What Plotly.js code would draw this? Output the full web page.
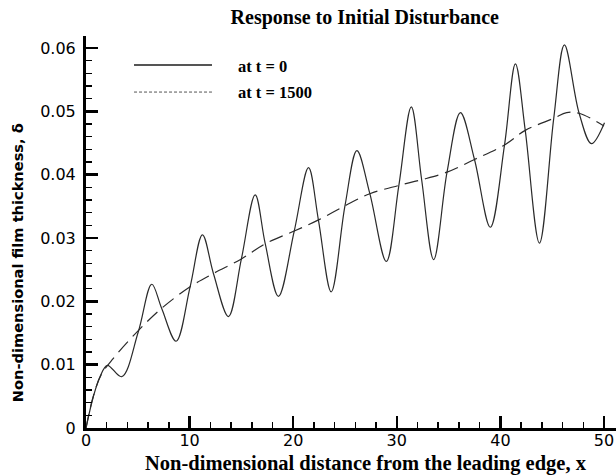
<!DOCTYPE html>
<html>
<head>
<meta charset="utf-8">
<script src="https://cdn.plot.ly/plotly-3.0.1.min.js"></script>
<style>html,body{margin:0;padding:0;background:#fff;overflow:hidden}</style>
</head>
<body>
<div id="chart" style="width:616px;height:475px"></div>
<script>
// Solid curve: at t = 0
const xT0 = [0, 0.7, 1.35, 2.06, 3.45, 5.05, 6.35, 7.3, 8.7, 10.05, 11.24, 12.3, 13.75, 15.0, 16.33, 17.3, 18.58, 20.1, 21.48, 22.44, 23.67, 25.0, 26.15, 27.4, 28.99, 30.2, 31.4, 32.4, 33.56, 34.85, 36.14, 37.5, 39.03, 40.4, 41.45, 42.4, 43.77, 45.15, 46.18, 47.6, 48.79, 50.05];
const yT0 = [0, 0.0049, 0.0081, 0.0099, 0.0081, 0.0152, 0.0227, 0.0189, 0.0137, 0.0223, 0.0305, 0.0244, 0.0176, 0.0267, 0.0368, 0.0291, 0.0208, 0.0311, 0.0411, 0.0328, 0.0215, 0.0351, 0.0438, 0.0370, 0.0263, 0.0383, 0.0507, 0.0392, 0.0266, 0.0404, 0.0498, 0.0424, 0.0317, 0.0447, 0.0575, 0.0470, 0.0292, 0.0489, 0.0605, 0.0497, 0.0449, 0.0482];
// Dashed curve: at t = 1500
const xT1500 = [0, 0.7, 1.5, 2.64, 5.0, 7.3, 10.05, 12.3, 15.0, 17.3, 20.1, 22.5, 25.0, 27.4, 30.2, 32.4, 34.85, 37.5, 40.4, 42.4, 45.15, 46.4, 47.6, 50.0];
const yT1500 = [0, 0.0050, 0.0085, 0.0110, 0.0153, 0.0189, 0.0223, 0.0244, 0.0267, 0.0291, 0.0311, 0.0329, 0.0351, 0.0370, 0.0383, 0.0392, 0.0404, 0.0424, 0.0447, 0.0470, 0.0489, 0.0498, 0.0497, 0.0477];
const seriesNames = ["at t = 0", "at t = 1500"];
const chartTitle = "Response to Initial Disturbance";
const xTitle = "Non-dimensional distance from the leading edge, x";
const yTitle = "Non-dimensional film thickness, \u03b4";

const lineColor = "#2a2a2a";
const traces = [
  {x: xT0, y: yT0, name: seriesNames[0], mode: "lines", showlegend: false,
   line: {color: lineColor, width: 1.2, shape: "spline", smoothing: 1}},
  {x: xT1500, y: yT1500, name: seriesNames[1], mode: "lines", showlegend: false,
   line: {color: lineColor, width: 1.2, shape: "spline", smoothing: 1, dash: "14px,7px"}}
];

const serif = "Liberation Serif, Times New Roman, serif";
const sans = "DejaVu Sans, sans-serif";

const layout = {
  width: 616, height: 475,
  margin: {l: 86, r: 0, t: 36, b: 47, pad: 0},
  paper_bgcolor: "#fff", plot_bgcolor: "#fff",
  showlegend: false,
  title: {text: chartTitle, font: {family: serif, size: 20, color: "#000", weight: "bold"},
          xref: "paper", x: 0.526, xanchor: "center", yref: "container", y: 0.964, yanchor: "middle"},
  xaxis: {
    range: [0, 51.16], tick0: 0, dtick: 10, ticks: "inside", ticklen: 12, tickwidth: 2.5, tickcolor: "#000",
    showline: true, linewidth: 3, linecolor: "#000", zeroline: false, showgrid: false,
    minor: {dtick: 2, ticks: "inside", ticklen: 6, tickwidth: 1.5, tickcolor: "#000", showgrid: false},
    tickfont: {family: sans, size: 16, color: "#000"}, ticklabelstandoff: -4,
    automargin: false
  },
  yaxis: {
    range: [0, 0.0619], tick0: 0, dtick: 0.01, ticks: "inside", ticklen: 12, tickwidth: 2.5, tickcolor: "#000",
    showline: true, linewidth: 3, linecolor: "#000", zeroline: false, showgrid: false,
    minor: {dtick: 0.002, ticks: "inside", ticklen: 6, tickwidth: 1.5, tickcolor: "#000", showgrid: false},
    tickfont: {family: sans, size: 16, color: "#000"}, ticklabelstandoff: 4,
    automargin: false
  },
  shapes: [
    {type: "line", xref: "paper", yref: "paper", x0: 0.0906, x1: 0.2377, y0: 0.926, y1: 0.926,
     line: {color: "#555", width: 2}},
    {type: "line", xref: "paper", yref: "paper", x0: 0.0906, x1: 0.2377, y0: 0.857, y1: 0.857,
     line: {color: "#555", width: 1, dash: "3px,2px"}}
  ],
  annotations: [
    {text: xTitle, xref: "paper", yref: "paper", x: 0.528, y: -0.0893, xanchor: "center", yanchor: "middle",
     showarrow: false, font: {family: serif, size: 20.5, color: "#000", weight: "bold"}},
    {text: yTitle, xref: "paper", yref: "paper", x: -0.128, y: 0.421, xanchor: "center", yanchor: "middle",
     textangle: -90, showarrow: false, font: {family: sans, size: 14.6, color: "#000", weight: "bold"}},
    {text: seriesNames[0], xref: "paper", yref: "paper", x: 0.283, y: 0.922, xanchor: "left", yanchor: "middle",
     showarrow: false, font: {family: serif, size: 16.5, color: "#000", weight: "bold"}},
    {text: seriesNames[1], xref: "paper", yref: "paper", x: 0.283, y: 0.857, xanchor: "left", yanchor: "middle",
     showarrow: false, font: {family: serif, size: 16.5, color: "#000", weight: "bold"}}
  ]
};

Plotly.newPlot("chart", traces, layout, {displayModeBar: false, staticPlot: true});
</script>
</body>
</html>
